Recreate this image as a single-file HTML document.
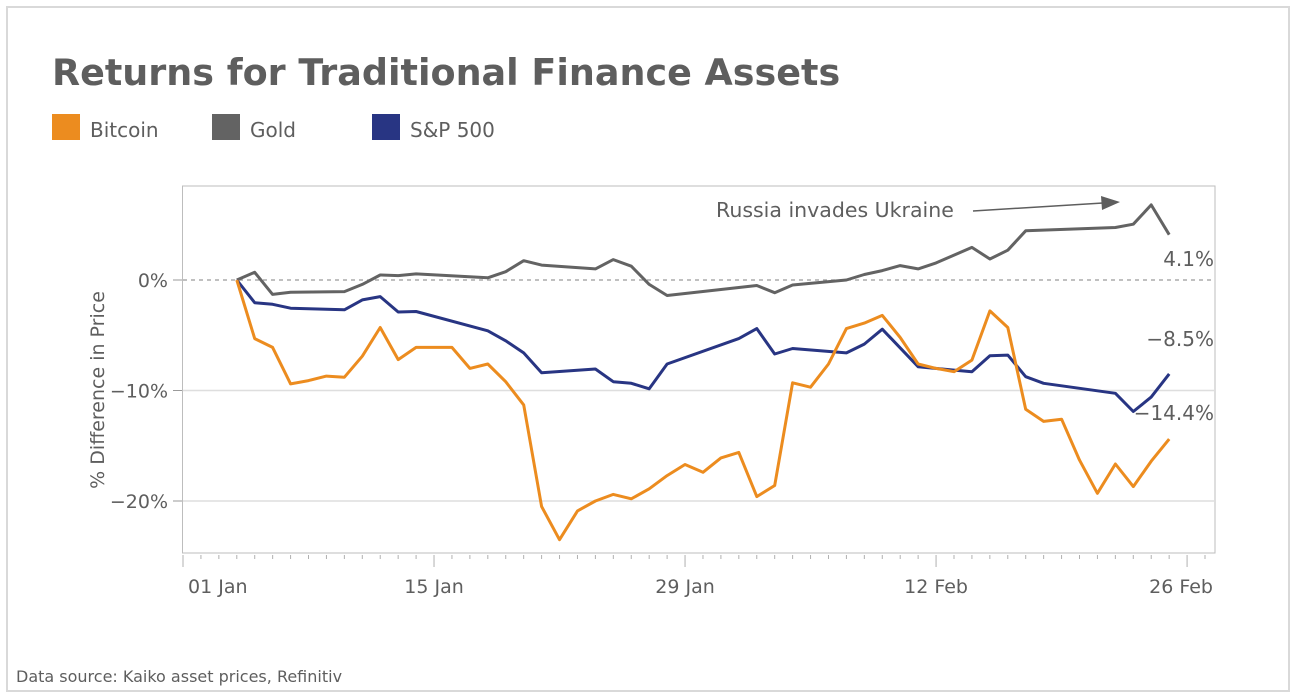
<!DOCTYPE html>
<html><head><meta charset="utf-8">
<style>
body{margin:0;background:#fff;width:1296px;height:698px;overflow:hidden;font-family:"DejaVu Sans","Liberation Sans",sans-serif;}
svg{display:block}
</style></head>
<body>
<svg id="chart" width="1296" height="698" viewBox="0 0 1296 698">
  <rect x="7" y="7" width="1282" height="684" fill="#fff" stroke="#d9d9d9" stroke-width="2"/>
  <text x="52" y="85" font-size="36.5" font-weight="bold" fill="#5e5e5e" font-family="'DejaVu Sans',sans-serif">Returns for Traditional Finance Assets</text>
  <g>
    <g><rect x="52" y="114" width="28" height="26" fill="#ec8c1f"/><text x="90" y="137" font-size="20" fill="#5e5e5e">Bitcoin</text></g>
    <g><rect x="212" y="114" width="28" height="26" fill="#636363"/><text x="250" y="137" font-size="20" fill="#5e5e5e">Gold</text></g>
    <g><rect x="372" y="114" width="28" height="26" fill="#283583"/><text x="410" y="137" font-size="20" fill="#5e5e5e">S&amp;P 500</text></g>
  </g>
  <rect x="182.5" y="186" width="1032.5" height="367" fill="none" stroke="#bdbdbd" stroke-width="1"/>
  <g id="grid"></g>
  <g id="axes"></g>
  <g id="lines"></g>
  <text x="84" y="370" font-size="19" fill="#5e5e5e" text-anchor="middle" transform="rotate(-90 104 370)">% Difference in Price</text>
  <g>
    <text x="716" y="217" font-size="20.5" fill="#5e5e5e">Russia invades Ukraine</text>
    <line x1="973" y1="211" x2="1103" y2="203" stroke="#5e5e5e" stroke-width="1.5"/>
    <polygon points="1120,202 1101,196 1102,210" fill="#5e5e5e"/>
  </g>
  <g id="endlabels"></g>
  <text x="16" y="682" font-size="16" fill="#5e5e5e">Data source: Kaiko asset prices, Refinitiv</text>
</svg>
<script>
const btcDays = [3,4,5,6,7,8,9,10,11,12,13,14,15,16,17,18,19,20,21,22,23,24,25,26,27,28,29,30,31,32,33,34,35,36,37,38,39,40,41,42,43,44,45,46,47,48,49,50,51,52,53,54,55];
const btcVals = [0,-5.3,-6.1,-9.4,-9.1,-8.7,-8.8,-6.9,-4.3,-7.2,-6.1,-6.1,-6.1,-8.0,-7.6,-9.2,-11.3,-20.5,-23.5,-20.9,-20.0,-19.4,-19.8,-18.9,-17.7,-16.7,-17.4,-16.1,-15.6,-19.6,-18.6,-9.3,-9.7,-7.6,-4.4,-3.9,-3.2,-5.2,-7.6,-8.0,-8.3,-7.25,-2.8,-4.3,-11.7,-12.8,-12.6,-16.3,-19.3,-16.65,-18.7,-16.4,-14.4];
const goldDays = [3,4,5,6,9,10,11,12,13,17,18,19,20,23,24,25,26,27,32,33,34,37,38,39,40,41,42,44,45,46,47,52,53,54,55];
const goldVals = [0,0.7,-1.3,-1.1,-1.05,-0.4,0.45,0.4,0.55,0.2,0.75,1.75,1.35,1.0,1.85,1.25,-0.4,-1.4,-0.5,-1.15,-0.45,0,0.5,0.85,1.3,1.0,1.55,2.95,1.9,2.7,4.45,4.75,5.05,6.8,4.1];
const spDays = [3,4,5,6,9,10,11,12,13,17,18,19,20,23,24,25,26,27,31,32,33,34,37,38,39,41,43,44,45,46,47,48,52,53,54,55];
const spVals = [0,-2.05,-2.2,-2.55,-2.7,-1.8,-1.5,-2.9,-2.85,-4.6,-5.5,-6.6,-8.4,-8.05,-9.2,-9.35,-9.85,-7.6,-5.3,-4.4,-6.7,-6.2,-6.6,-5.8,-4.45,-7.85,-8.15,-8.3,-6.85,-6.8,-8.75,-9.35,-10.25,-11.9,-10.6,-8.5];
const yTicks = [0,-10,-20];
const yTickLabels = ["0%","\u221210%","\u221220%"];
const xTickDays = [0,14,28,42,56];
const xTickLabels = ["01 Jan","15 Jan","29 Jan","12 Feb","26 Feb"];
const totalDays = 58;

const NS="http://www.w3.org/2000/svg";
const X0=183, PXD=17.93;
const xs = d => X0 + d*PXD;
const ys = v => 280 - v*11.05;
function mk(tag, attrs, parent){const e=document.createElementNS(NS,tag);for(const k in attrs)e.setAttribute(k,attrs[k]);parent.appendChild(e);return e;}
const grid=document.getElementById('grid'), axes=document.getElementById('axes'), lines=document.getElementById('lines'), endl=document.getElementById('endlabels');

yTicks.forEach((v,i)=>{
  const y=ys(v);
  const g=mk('line',{x1:183,x2:1215,y1:y,y2:y,stroke:v===0?'#9a9a9a':'#dedede','stroke-width':v===0?1.2:1.5,'stroke-dasharray':v===0?'4,4':'none'},grid);
  
  
  const t=mk('line',{x1:173,x2:182,y1:y,y2:y,stroke:'#9a9a9a','stroke-width':1},axes);
  
  
  const lbl=mk('text',{x:168,y:y+7,'font-size':19,fill:'#5e5e5e','text-anchor':'end'},axes);
  lbl.textContent=yTickLabels[i];
  
  
});
for(let d=0; d<=totalDays; d++){
  const major = xTickDays.includes(d);
  const x=xs(d);
  if(x>1216) break;
  const t=mk('line',{x1:x,x2:x,y1:555,y2:major?567:559,stroke:'#b0b0b0','stroke-width':1},axes);
  
  
}
xTickDays.forEach((d,i)=>{
  const lbl=mk('text',{x:xs(d),y:593,'font-size':19,fill:'#5e5e5e','text-anchor':'middle'},axes);
  lbl.textContent=xTickLabels[i];
  
  
  const bb=lbl.getBBox();
  if(bb.x<188){lbl.setAttribute('text-anchor','start');lbl.setAttribute('x',188);}
  else if(bb.x+bb.width>1213){lbl.setAttribute('text-anchor','end');lbl.setAttribute('x',1213);}
});
function drawLine(days, vals, color, name){
  const pts=days.map((d,i)=>xs(d).toFixed(1)+','+ys(vals[i]).toFixed(1)).join(' ');
  const p=mk('polyline',{points:pts,fill:'none',stroke:color,'stroke-width':3,'stroke-linejoin':'round'},lines);
  
  
}
drawLine(goldDays,goldVals,'#636363','gold-line');
drawLine(spDays,spVals,'#283583','sp500-line');
drawLine(btcDays,btcVals,'#ec8c1f','bitcoin-line');

const endTexts=[[goldVals[goldVals.length-1],266,'gold-end-label'],[spVals[spVals.length-1],346,'sp500-end-label'],[btcVals[btcVals.length-1],420,'bitcoin-end-label']];
endTexts.forEach(([v,y,n])=>{
  const t=mk('text',{x:1214,y:y,'font-size':20,fill:'#5e5e5e','text-anchor':'end'},endl);
  t.textContent=(v<0?'\u2212':'')+Math.abs(v).toFixed(1)+'%';
  
  
});
</script>
</body></html>
